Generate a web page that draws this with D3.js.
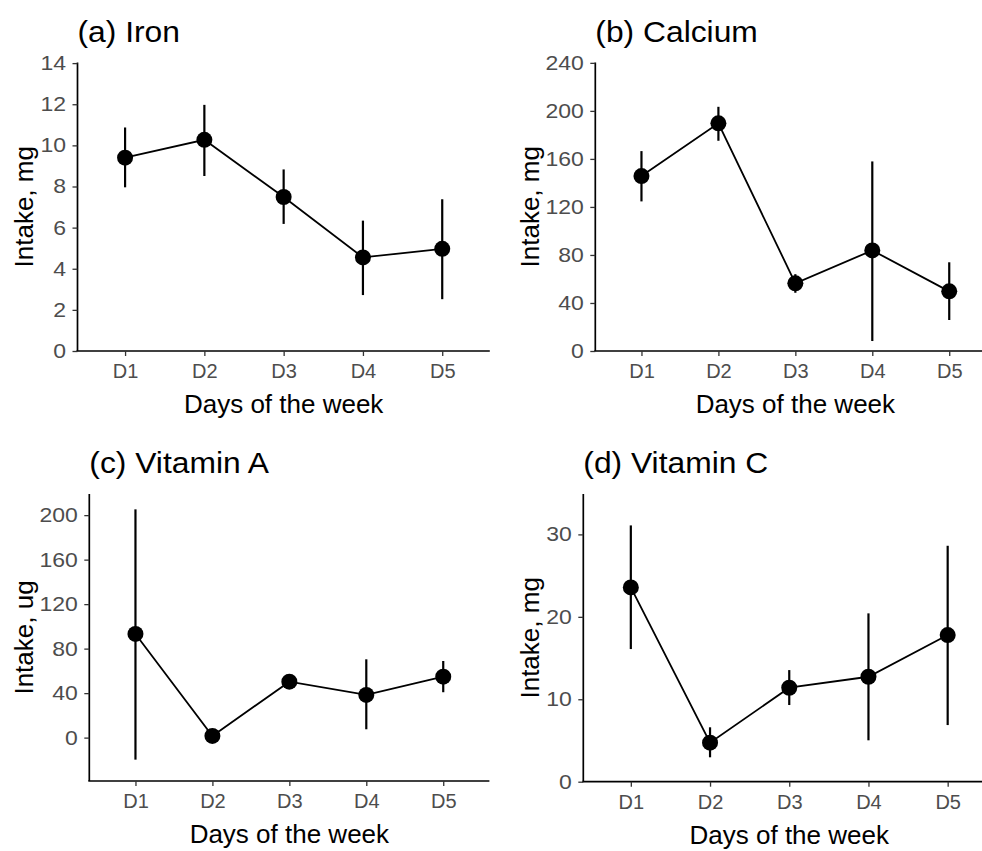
<!DOCTYPE html>
<html>
<head>
<meta charset="utf-8">
<script src="https://cdn.jsdelivr.net/npm/d3@7"></script>
<style>
  body { margin: 0; background: #fff; }
  svg { display: block; font-family: "Liberation Sans", Arial, sans-serif; }
</style>
</head>
<body>
<div id="chart"></div>
<script>
var svgWidth = 982;
var svgHeight = 851;

// categories
var days = ["D1", "D2", "D3", "D4", "D5"];

// (a) Iron, mg
var ironMean = [9.4, 10.27, 7.49, 4.55, 4.97];
var ironLow = [7.96, 8.51, 6.18, 2.72, 2.52];
var ironHigh = [10.87, 11.97, 8.83, 6.34, 7.38];
var ironTicks = [0, 2, 4, 6, 8, 10, 12, 14];

// (b) Calcium, mg
var calciumMean = [145.7, 189.6, 56.4, 83.8, 49.7];
var calciumLow = [124.6, 175.1, 48.5, 8.3, 25.8];
var calciumHigh = [166.5, 203.4, 64, 157.9, 73.9];
var calciumTicks = [0, 40, 80, 120, 160, 200, 240];

// (c) Vitamin A, ug
var vitAMean = [93.2, 1.5, 50.3, 38.4, 54.8];
var vitALow = [-19.8, 0.5, 49, 7.5, 40.8];
var vitAHigh = [205.2, 2.5, 51.6, 70.4, 68.9];
var vitATicks = [0, 40, 80, 120, 160, 200];

// (d) Vitamin C, mg
var vitCMean = [23.57, 4.73, 11.4, 12.73, 17.79];
var vitCLow = [16.09, 2.96, 9.3, 5.02, 6.87];
var vitCHigh = [31.09, 6.6, 13.54, 20.42, 28.62];
var vitCTicks = [0, 10, 20, 30];

var svg = d3.select("#chart")
  .append("svg")
  .attr("width", svgWidth)
  .attr("height", svgHeight);

// panel frames (pixel box of each plotting area) and y domains
var panels = [
  { title: "(a) Iron", ylab: "Intake, mg", mean: ironMean, low: ironLow, high: ironHigh, ticks: ironTicks,
    ydom: [0, 14.03], left: 77.5, right: 489.8, top: 62.5, bottom: 351, titleY: 42, ylabX: 33 },
  { title: "(b) Calcium", ylab: "Intake, mg", mean: calciumMean, low: calciumLow, high: calciumHigh, ticks: calciumTicks,
    ydom: [0, 240.3], left: 595.3, right: 995.4, top: 62.5, bottom: 351, titleY: 42, ylabX: 539 },
  { title: "(c) Vitamin A", ylab: "Intake, ug", mean: vitAMean, low: vitALow, high: vitAHigh, ticks: vitATicks,
    ydom: [-39, 219], left: 89.3, right: 489.4, top: 494, bottom: 781, titleY: 472.5, ylabX: 33 },
  { title: "(d) Vitamin C", ylab: "Intake, mg", mean: vitCMean, low: vitCLow, high: vitCHigh, ticks: vitCTicks,
    ydom: [0, 34.9], left: 583.3, right: 995.2, top: 494, bottom: 781.7, titleY: 472.5, ylabX: 539 }
];

panels.forEach(function(p) {
  var g = svg.append("g");

  var x = d3.scalePoint()
    .domain(days)
    .range([p.left, p.right])
    .padding(0.6);

  var y = d3.scaleLinear()
    .domain(p.ydom)
    .range([p.bottom, p.top]);

  var rows = days.map(function(d, i) {
    return { day: d, mean: p.mean[i], low: p.low[i], high: p.high[i] };
  });

  // x axis
  var xAxis = g.append("g")
    .attr("transform", `translate(0, ${p.bottom})`)
    .call(d3.axisBottom(x).tickSize(5).tickPadding(8).tickSizeOuter(0));

  // y axis
  var yAxis = g.append("g")
    .attr("transform", `translate(${p.left}, 0)`)
    .call(d3.axisLeft(y).tickValues(p.ticks).tickSize(5).tickPadding(5).tickSizeOuter(0));

  [xAxis, yAxis].forEach(function(ax) {
    ax.select(".domain").attr("stroke", "#000").attr("stroke-width", 1.7);
    ax.selectAll(".tick line").attr("stroke", "#333").attr("stroke-width", 1.3);
    ax.selectAll(".tick text")
      .attr("fill", "#4d4d4d")
      .style("font-size", "20px");
  });
  // the y tick numbers in the original are a bit wider
  yAxis.selectAll(".tick text").attr("transform", "scale(1.15,1)");

  // draw x domain across the full panel width
  xAxis.select(".domain").attr("d", `M${p.left - 1},0H${p.right}`);
  yAxis.select(".domain").attr("d", `M0,${p.top}V${p.bottom}`);

  // error bars
  g.selectAll(".err")
    .data(rows)
    .enter()
    .append("line")
    .attr("x1", d => x(d.day))
    .attr("x2", d => x(d.day))
    .attr("y1", d => y(d.low))
    .attr("y2", d => y(d.high))
    .attr("stroke", "#000")
    .attr("stroke-width", 2.2);

  // connecting line
  g.append("path")
    .datum(rows)
    .attr("fill", "none")
    .attr("stroke", "#000")
    .attr("stroke-width", 1.8)
    .attr("d", d3.line().x(d => x(d.day)).y(d => y(d.mean)));

  // points
  g.selectAll(".pt")
    .data(rows)
    .enter()
    .append("circle")
    .attr("cx", d => x(d.day))
    .attr("cy", d => y(d.mean))
    .attr("r", 8)
    .attr("fill", "#000");

  // panel title
  g.append("text")
    .attr("transform", `translate(${p.left}, ${p.titleY}) scale(1.06,1)`)
    .style("font-size", "30px")
    .attr("fill", "#000")
    .text(p.title);

  // x axis title
  g.append("text")
    .attr("x", (p.left + p.right) / 2)
    .attr("y", p.bottom + 62)
    .attr("text-anchor", "middle")
    .style("font-size", "26px")
    .attr("fill", "#000")
    .text("Days of the week");

  // y axis title
  g.append("text")
    .attr("transform", `translate(${p.ylabX}, ${(p.top + p.bottom) / 2}) rotate(-90)`)
    .attr("text-anchor", "middle")
    .style("font-size", "26px")
    .attr("fill", "#000")
    .text(p.ylab);
});
</script>
</body>
</html>
